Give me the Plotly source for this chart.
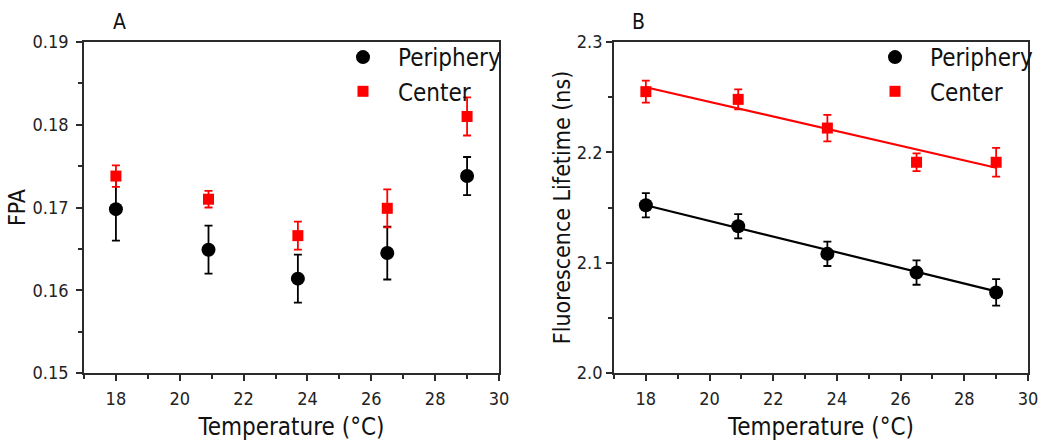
import plotly.graph_objects as go

# ---------------- data ----------------
temps = [18, 20.9, 23.7, 26.5, 29]

fpa_periphery = [0.1698, 0.1649, 0.1614, 0.1645, 0.1738]
fpa_periphery_err = [0.0038, 0.0029, 0.0029, 0.0032, 0.0023]
fpa_center = [0.1738, 0.1710, 0.1666, 0.1699, 0.1810]
fpa_center_err = [0.0013, 0.0010, 0.0017, 0.0023, 0.0023]

life_periphery = [2.152, 2.133, 2.108, 2.091, 2.073]
life_periphery_err = [0.011, 0.011, 0.011, 0.011, 0.012]
life_center = [2.255, 2.248, 2.222, 2.191, 2.191]
life_center_err = [0.010, 0.009, 0.012, 0.008, 0.013]

fit_x = [18, 29]
fit_periphery = [2.152, 2.074]
fit_center = [2.259, 2.186]

x_ticks = [18, 20, 22, 24, 26, 28, 30]
fpa_ticks = [0.15, 0.16, 0.17, 0.18, 0.19]
life_ticks = [2.0, 2.1, 2.2, 2.3]

# ---------------- style ----------------
FONT = "DejaVu Sans Condensed, Liberation Sans, Arial, sans-serif"
RED = "#ff0000"
BLACK = "#000000"
AX = "#2b2b2b"
W, H = 1039, 441

fig = go.Figure()

def add_points(x, y, err, color, symbol, size, name, xa, ya, legend):
    fig.add_trace(go.Scatter(
        x=x, y=y, mode="markers", name=name,
        marker=dict(color=color, symbol=symbol, size=size, line=dict(width=0)),
        error_y=dict(type="data", array=err, visible=True, color=color,
                     thickness=1.8, width=4),
        xaxis=xa, yaxis=ya, legend=legend, showlegend=True,
    ))

# Panel A
add_points(temps, fpa_periphery, fpa_periphery_err, BLACK, "circle", 14, "Periphery", "x", "y", "legend")
add_points(temps, fpa_center, fpa_center_err, RED, "square", 11, "Center", "x", "y", "legend")

# Panel B
fig.add_trace(go.Scatter(x=fit_x, y=fit_center, mode="lines", line=dict(color=RED, width=2.2),
                         xaxis="x2", yaxis="y2", showlegend=False, hoverinfo="skip"))
fig.add_trace(go.Scatter(x=fit_x, y=fit_periphery, mode="lines", line=dict(color=BLACK, width=2.2),
                         xaxis="x2", yaxis="y2", showlegend=False, hoverinfo="skip"))
add_points(temps, life_periphery, life_periphery_err, BLACK, "circle", 14, "Periphery", "x2", "y2", "legend2")
add_points(temps, life_center, life_center_err, RED, "square", 11, "Center", "x2", "y2", "legend2")

yd = [1 - 373 / H, 1 - 42 / H]
xdA = [84 / W, 499 / W]
xdB = [614 / W, 1028 / W]

def xaxis_cfg(domain, anchor):
    return dict(
        domain=domain, anchor=anchor, range=[17, 30],
        tickvals=x_ticks, ticks="outside", ticklen=6, tickwidth=1.5, tickcolor=AX,
        ticklabelstandoff=2,
        minor=dict(tickvals=[17, 19, 21, 23, 25, 27, 29], ticks="outside", ticklen=4,
                   tickwidth=1.5, tickcolor=AX),
        showline=True, linecolor=AX, linewidth=1.8, mirror=True,
        showgrid=False, zeroline=False,
        tickfont=dict(family=FONT, size=18, color="#222"),
        title=dict(text="Temperature (°C)", font=dict(family=FONT, size=24, color="#111"),
                   standoff=12),
        automargin=False,
    )

def yaxis_cfg(domain, anchor, rng, ticks, minor, fmt, title, lab_off, t_off):
    return dict(
        domain=domain, anchor=anchor, range=rng,
        tickvals=ticks, tickformat=fmt, ticks="outside", ticklen=6, tickwidth=1.5, tickcolor=AX,
        ticklabelstandoff=lab_off,
        minor=dict(tickvals=minor, ticks="outside", ticklen=4, tickwidth=1.5, tickcolor=AX),
        showline=True, linecolor=AX, linewidth=1.8, mirror=True,
        showgrid=False, zeroline=False,
        tickfont=dict(family=FONT, size=18, color="#222"),
        title=dict(text=title, font=dict(family=FONT, size=23, color="#111"), standoff=t_off),
        automargin=False,
    )

legend_common = dict(
    font=dict(family=FONT, size=24, color="#111"),
    bgcolor="rgba(0,0,0,0)", borderwidth=0,
    xanchor="left", yanchor="top", itemwidth=60, tracegroupgap=0,
)

fig.update_layout(
    width=W, height=H,
    margin=dict(l=0, r=0, t=0, b=0),
    paper_bgcolor="white", plot_bgcolor="white",
    showlegend=True,
    xaxis=xaxis_cfg(xdA, "y"),
    yaxis=yaxis_cfg(yd, "x", [0.15, 0.19], fpa_ticks, [0.155, 0.165, 0.175, 0.185], ".2f",
                    "FPA", 4, 0),
    xaxis2=xaxis_cfg(xdB, "y2"),
    yaxis2=yaxis_cfg(yd, "x2", [2.0, 2.3], life_ticks, [2.05, 2.15, 2.25], ".1f",
                     "Fluorescence Lifetime (ns)", 0, 0),
    legend=dict(x=328 / W, y=1 - 35 / H, **legend_common),
    legend2=dict(x=860 / W, y=1 - 35 / H, **legend_common),
    annotations=[
        dict(text="A", x=119 / W, y=1 - 22 / H, xref="paper", yref="paper",
             xanchor="center", yanchor="middle",
             showarrow=False, font=dict(family=FONT, size=21, color="#111")),
        dict(text="B", x=638 / W, y=1 - 22 / H, xref="paper", yref="paper",
             xanchor="center", yanchor="middle",
             showarrow=False, font=dict(family=FONT, size=21, color="#111")),
    ],
)

fig.write_html("out.html", config={"responsive": False})
